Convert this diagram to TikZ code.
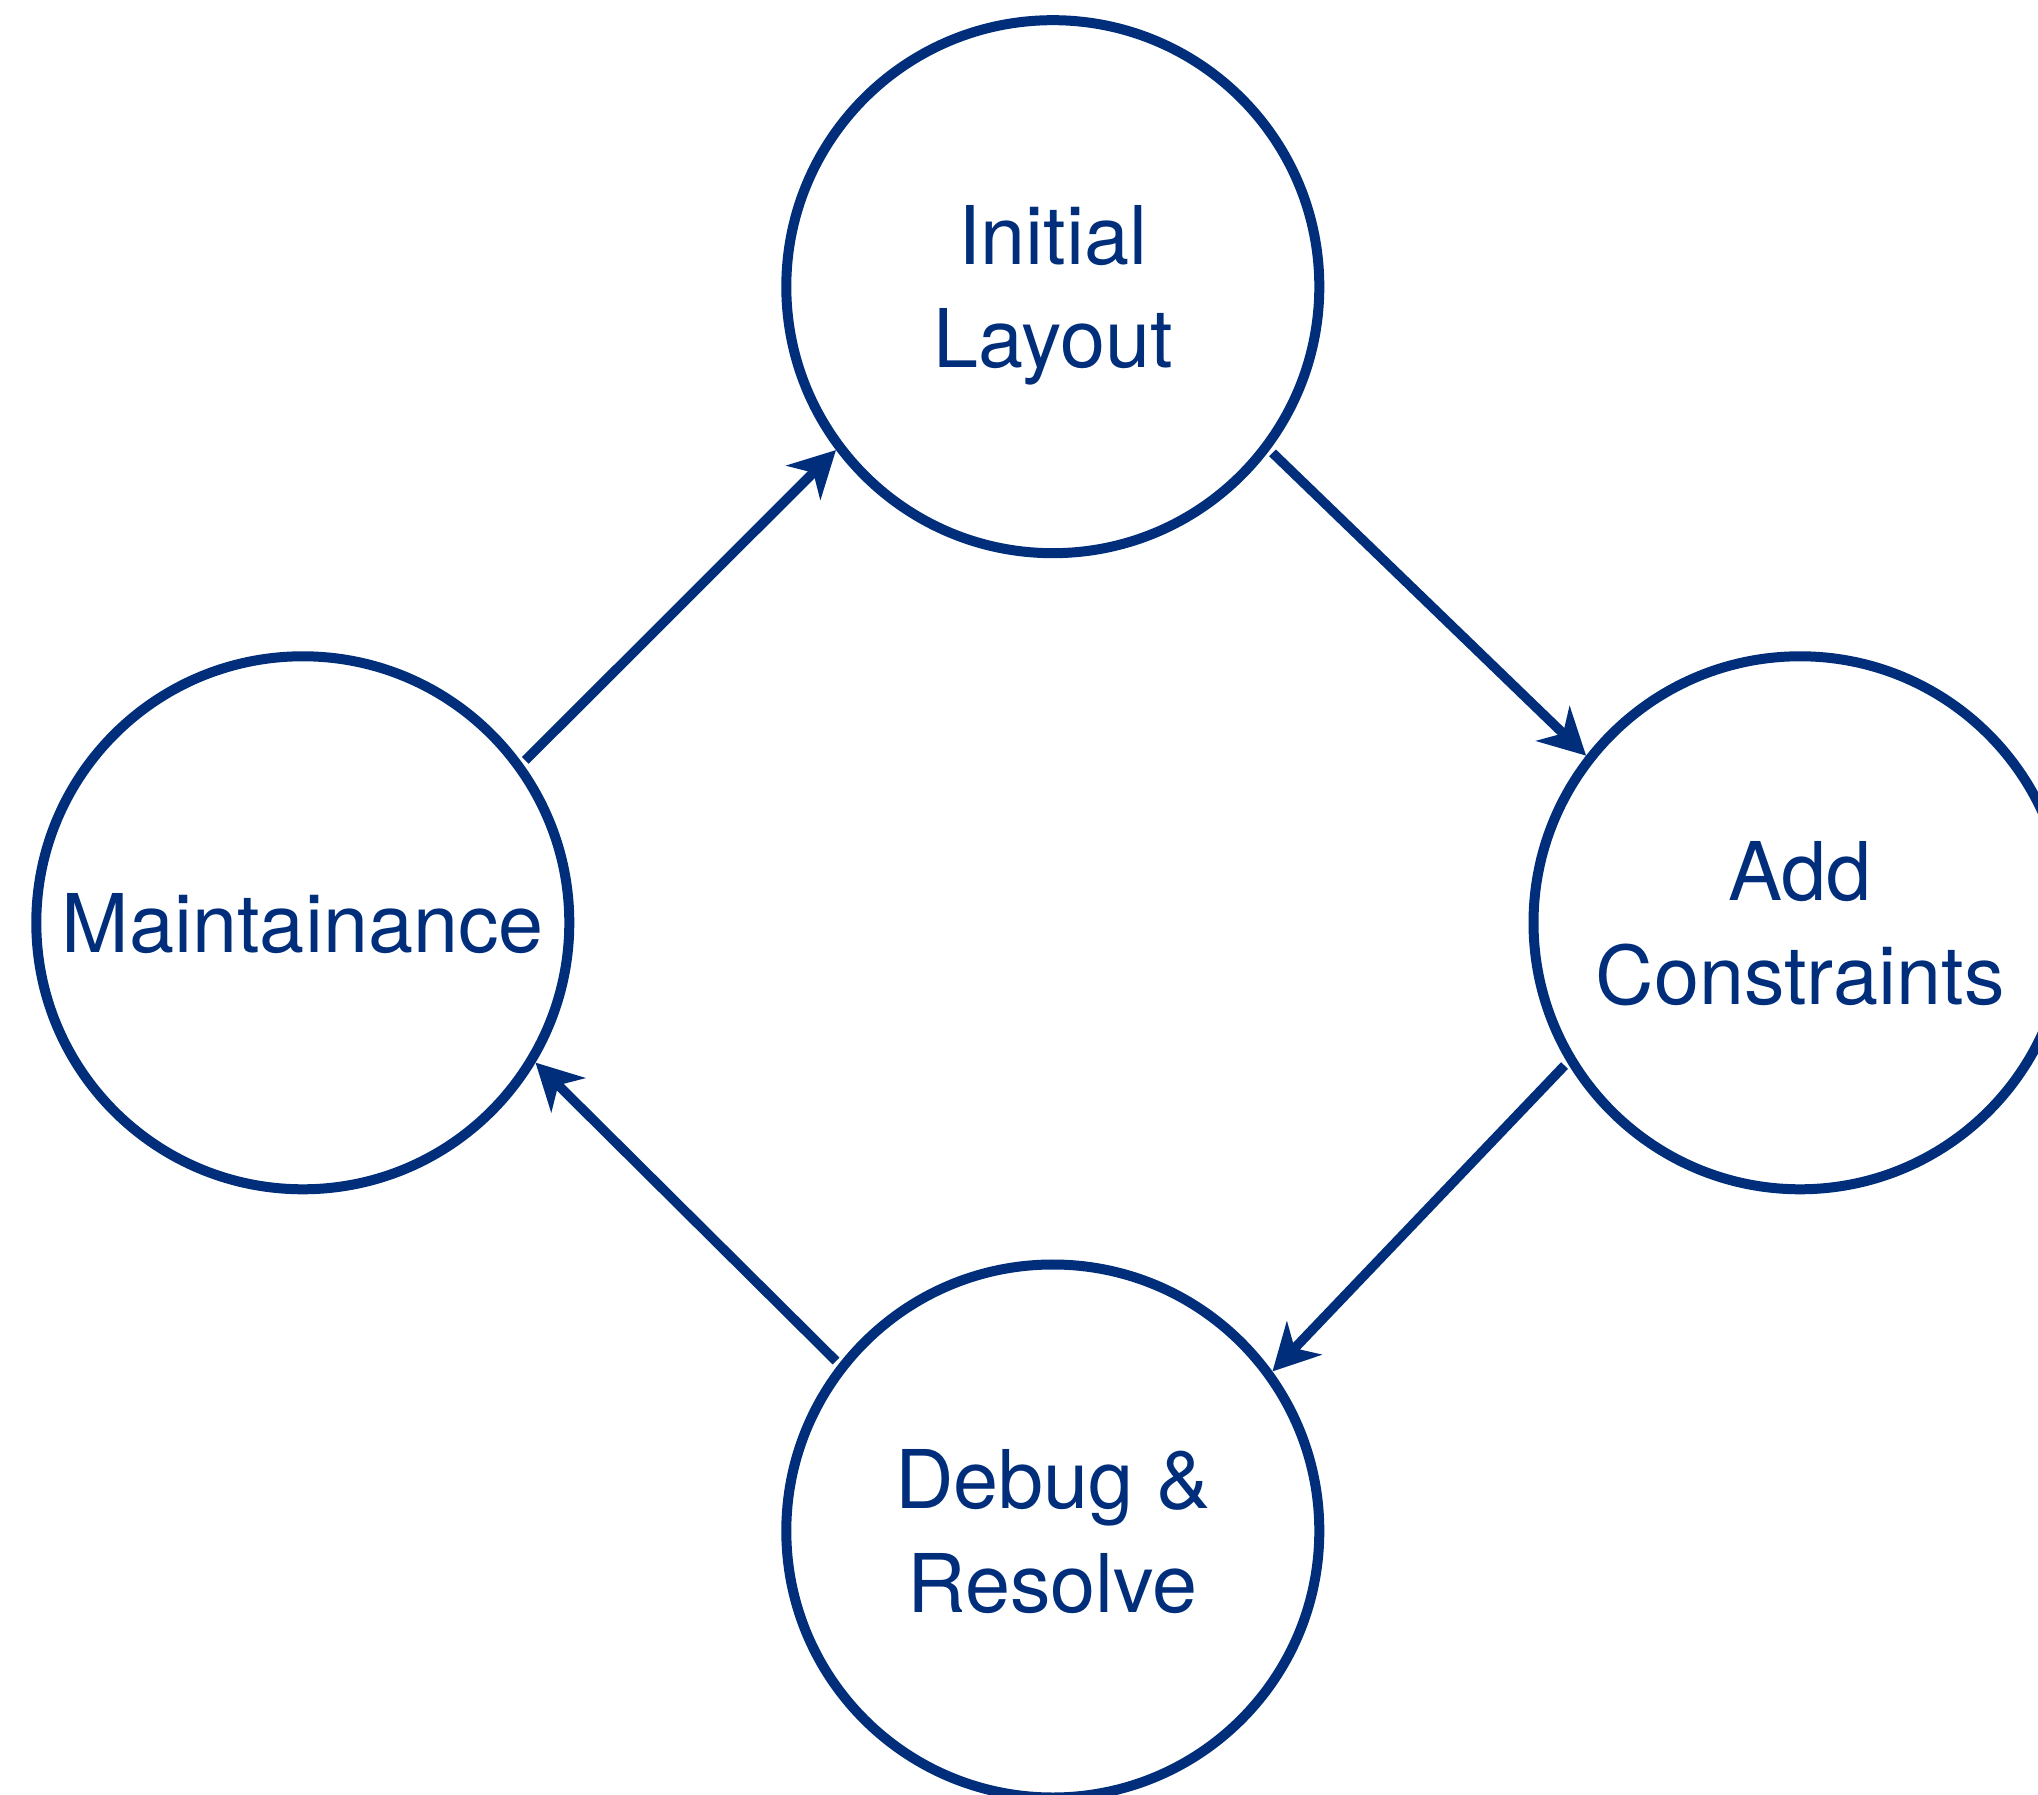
\documentclass[tikz,border=0pt]{standalone}
\usepackage{fontspec}
\setmainfont{TeX Gyre Heros}
\usetikzlibrary{arrows.meta}
\definecolor{navy}{HTML}{002E7B}
\begin{document}
\begin{tikzpicture}[x=0.5pt,y=0.5pt,
  stage/.style={circle,draw=navy,line width=5pt,minimum size=266.5pt,inner sep=0pt,
    text=navy,align=center,text depth=0pt,font=\fontsize{40.5}{51.7}\selectfont},
  flow/.style={draw=navy,line width=4.8pt,shorten <=2pt,
    -{Stealth[length=23pt,width=24pt,inset=7pt,fill=navy]}}]
\useasboundingbox (0,0) rectangle (2038,1794);
\node[stage] (top) at (1052.8,1507.3) {Initial\\Layout};
\node[stage] (left) at (302.8,871.2) {Maintainance};
\node[stage] (right) at (1800,871.2) {Add\\Constraints};
\node[stage] (bottom) at (1052.8,263) {Debug \&\\Resolve};
\draw[flow] (left.36) -- (top.217.1);
\draw[flow] (top.-37.5) -- (right.142.7);
\draw[flow] (right.211.9) -- (bottom.36.7);
\draw[flow] (bottom.142.6) -- (left.-31.1);
\end{tikzpicture}
\end{document}
